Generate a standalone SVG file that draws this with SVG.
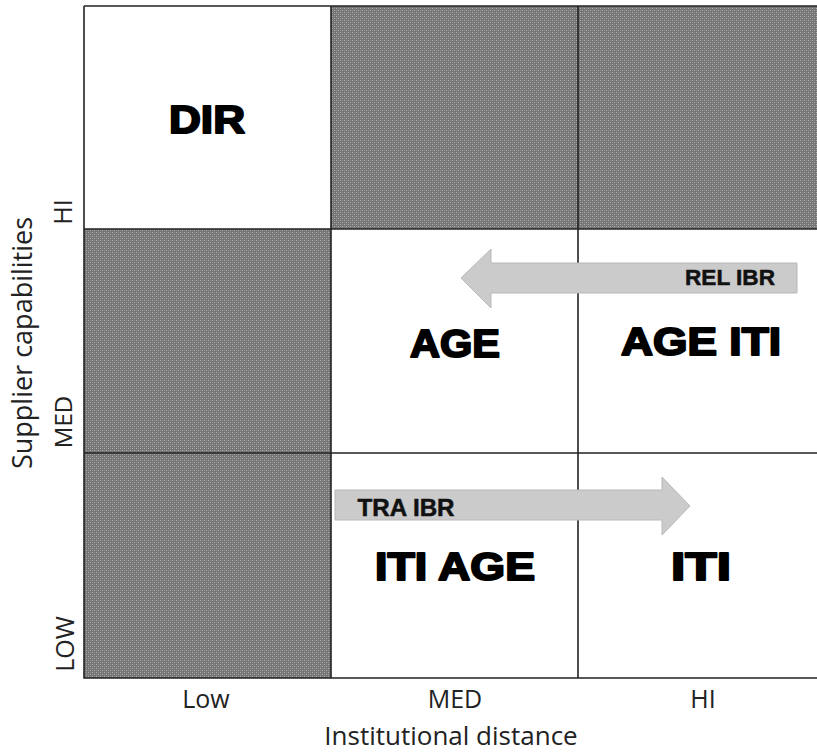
<svg xmlns="http://www.w3.org/2000/svg" width="817" height="754" viewBox="0 0 817 754">
<defs>
<pattern id="dots" x="0" y="0" width="4" height="4" patternUnits="userSpaceOnUse">
<rect width="4" height="4" fill="#747474"/>
<rect x="0" y="0" width="1" height="1" fill="#b2b2b2"/>
<rect x="2" y="2" width="1" height="1" fill="#b2b2b2"/>
<rect x="2" y="0" width="1" height="1" fill="#929292"/>
<rect x="0" y="2" width="1" height="1" fill="#929292"/>
</pattern>
</defs>
<style>
.shade{fill:url(#dots);}
.grid{stroke:#222;stroke-width:1.6;fill:none;}
.big{font-family:"Liberation Sans",Arial,sans-serif;font-weight:bold;fill:#000;stroke:#000;stroke-width:2;stroke-linejoin:round;text-anchor:middle;}
.small{font-family:"Liberation Sans",Arial,sans-serif;font-weight:bold;fill:#111;stroke:#111;stroke-width:0.5;text-anchor:middle;}
.axis{font-family:"Open Sans","DejaVu Sans",sans-serif;fill:#222;text-anchor:middle;}
.arrow{fill:#cbcbcb;stroke:#b8b8b8;stroke-width:1;}
</style>
<rect width="817" height="754" fill="#fff"/>
<g id="cells">
<rect class="shade" x="331" y="6" width="486" height="223"/>
<rect class="shade" x="84" y="229" width="247" height="449"/>
</g>
<g id="grid">
<path class="grid" d="M84,6 H817 M84,6 V678 H817 M331,6 V678 M578,6 V678 M84,229 H817 M84,453 H817"/>
</g>
<g id="connectors">
<g id="rel-ibr">
<polygon class="arrow" points="797,263 491,263 491,249 461,278 491,308 491,293 797,293"/>
<text class="small" x="730" y="285" font-size="22" textLength="90" lengthAdjust="spacingAndGlyphs">REL IBR</text>
</g>
<g id="tra-ibr">
<polygon class="arrow" points="335,490 662,490 662,477 690,506 662,535 662,520 335,520"/>
<text class="small" x="406" y="516" font-size="23" textLength="97" lengthAdjust="spacingAndGlyphs">TRA IBR</text>
</g>
</g>
<g id="dir"><text class="big" x="207" y="133" font-size="39" textLength="76" lengthAdjust="spacingAndGlyphs">DIR</text></g>
<g id="age"><text class="big" x="455" y="357" font-size="39" textLength="90" lengthAdjust="spacingAndGlyphs">AGE</text></g>
<g id="age-iti"><text class="big" x="701" y="355" font-size="39" textLength="160" lengthAdjust="spacingAndGlyphs">AGE ITI</text></g>
<g id="iti-age"><text class="big" x="455" y="580" font-size="39" textLength="160" lengthAdjust="spacingAndGlyphs">ITI AGE</text></g>
<g id="iti"><text class="big" x="701" y="580" font-size="39" textLength="60" lengthAdjust="spacingAndGlyphs">ITI</text></g>
<g id="x-axis">
<text class="axis" x="206" y="708" font-size="25">Low</text>
<text class="axis" x="455" y="708" font-size="25">MED</text>
<text class="axis" x="703" y="708" font-size="25">HI</text>
<text class="axis" x="451" y="745" font-size="26">Institutional distance</text>
</g>
<g id="y-axis">
<text class="axis" transform="translate(72,212) rotate(-90)" font-size="25">HI</text>
<text class="axis" transform="translate(72,422) rotate(-90)" font-size="24">MED</text>
<text class="axis" transform="translate(74,644) rotate(-90)" font-size="25">LOW</text>
<text class="axis" transform="translate(32,343) rotate(-90)" font-size="27">Supplier capabilities</text>
</g>
</svg>
